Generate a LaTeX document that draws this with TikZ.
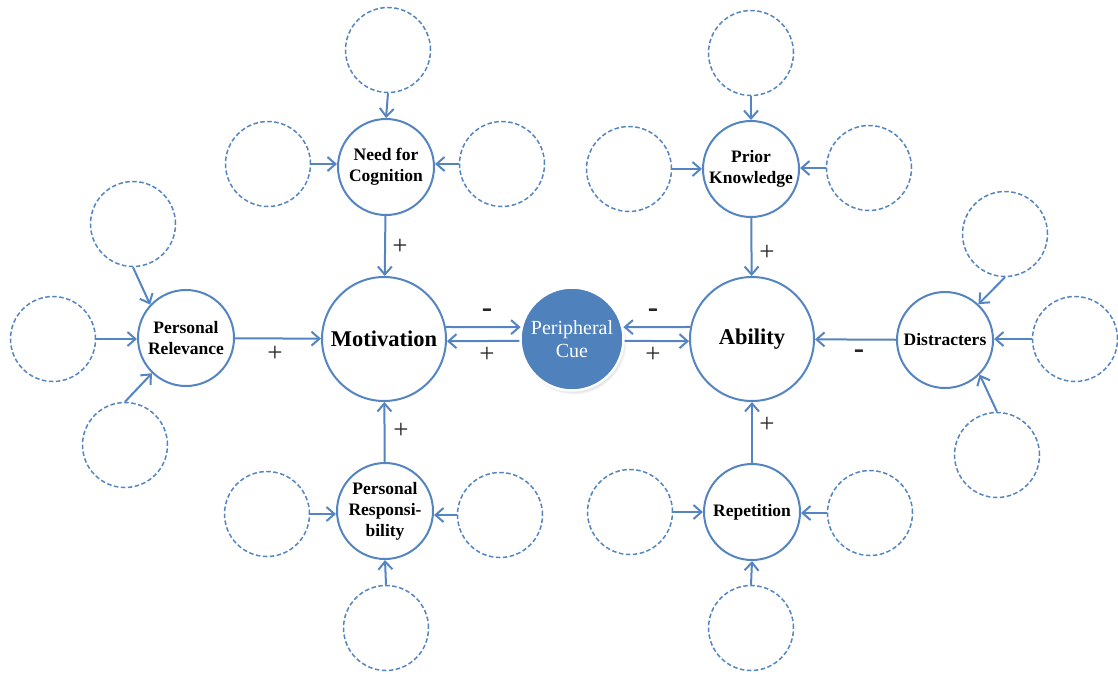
\documentclass[tikz,border=0pt]{standalone}
\usepackage{fontspec}
\setmainfont{Liberation Serif}
\usetikzlibrary{arrows.meta,shadows}
\definecolor{ln}{RGB}{84,132,194}
\definecolor{cuefill}{RGB}{79,129,189}
\begin{document}
\begin{tikzpicture}[x=1pt,y=-1pt,
 main/.style={circle,draw=ln,line width=2pt,fill=white,inner sep=0pt,minimum size=124pt,font=\fontsize{22.5}{26}\selectfont\bfseries,text=black},
 sub/.style={circle,draw=ln,line width=2pt,fill=white,inner sep=0pt,minimum size=96pt,align=center,font=\fontsize{17.5}{21}\selectfont\bfseries,text=black},
 ghost/.style={circle,draw=ln,line width=1.5pt,dash pattern=on 4.5pt off 2.5pt,inner sep=0pt,minimum size=85pt},
 arr/.style={draw=ln,line width=2pt,-{Straight Barb[length=8pt,width=14pt]}},
 sign/.style={font=\fontsize{27}{27}\selectfont,inner sep=0pt,text=black!85},
 neg/.style={font=\fontsize{31}{31}\selectfont\bfseries,inner sep=0pt,text=black!85},
]
\useasboundingbox (0,0) rectangle (1118,673);

% central nodes
\node[main] (mot) at (384,339) {Motivation};
\node[main] (abi) at (752,339) {Ability};
\node[circle,fill=cuefill,draw=white,line width=2.5pt,minimum size=103pt,inner sep=0pt,align=center,text=white,font=\fontsize{20}{23}\selectfont,
  circular drop shadow={shadow scale=1.03,shadow xshift=1.5pt,shadow yshift=-2.5pt,opacity=0.5}] (cue) at (572,339) {Peripheral\\Cue};

% secondary nodes
\node[sub] (nfc) at (386,167) {Need for\\Cognition};
\node[sub] (pr) at (186,338) {Personal\\Relevance};
\node[sub] (presp) at (385,511) {Personal\\Responsi-\\bility};
\node[sub] (pk) at (751,169) {Prior\\Knowledge};
\node[sub] (dis) at (945,340) {Distracters};
\node[sub] (rep) at (752,512) {Repetition};

% dashed placeholders
\node[ghost] (d1) at (388,50) {};
\node[ghost] (d2) at (268,164) {};
\node[ghost] (d3) at (502,164) {};
\node[ghost] (d4) at (133,224) {};
\node[ghost] (d5) at (53,339) {};
\node[ghost] (d6) at (125,445) {};
\node[ghost] (d7) at (267,514) {};
\node[ghost] (d8) at (500,515) {};
\node[ghost] (d9) at (386,628) {};
\node[ghost] (d10) at (751,53) {};
\node[ghost] (d11) at (629,169) {};
\node[ghost] (d12) at (869,168) {};
\node[ghost] (d13) at (1005,234) {};
\node[ghost] (d14) at (1075,339) {};
\node[ghost] (d15) at (997,455) {};
\node[ghost] (d16) at (630,512) {};
\node[ghost] (d17) at (870,513) {};
\node[ghost] (d18) at (751,628) {};

% placeholder arrows
\draw[arr] (d1.south) -- (nfc.north);
\draw[arr] (d2.east) -- (d2.east -| nfc.west);
\draw[arr] (d3.west) -- (d3.west -| nfc.east);
\draw[arr] (d4.south) -- (pr.137);
\draw[arr] (d5.east) -- (d5.east -| pr.west);
\draw[arr] (d6.north) -- (pr.226);
\draw[arr] (d7.east) -- (d7.east -| presp.west);
\draw[arr] (d8.west) -- (d8.west -| presp.east);
\draw[arr] (d9.north) -- (presp.south);
\draw[arr] (d10.south) -- (pk.north);
\draw[arr] (d11.east) -- (d11.east -| pk.west);
\draw[arr] (d12.west) -- (d12.west -| pk.east);
\draw[arr] (d13.south) -- (dis.47);
\draw[arr] (d14.west) -- (d14.west -| dis.east);
\draw[arr] (d15.north) -- (dis.315);
\draw[arr] (d16.east) -- (d16.east -| rep.west);
\draw[arr] (d17.west) -- (d17.west -| rep.east);
\draw[arr] (d18.north) -- (rep.south);

% main arrows
\draw[arr] (nfc) -- (mot);
\draw[arr] (pr) -- (mot);
\draw[arr] (presp) -- (mot);
\draw[arr] (pk) -- (abi);
\draw[arr] (rep) -- (abi);
\draw[arr] (dis) -- (abi);
\draw[arr] (mot.11) -- (cue.167);
\draw[arr] (cue.182) -- (mot.-2);
\draw[arr] (abi.169) -- (cue.13);
\draw[arr] (cue.-2) -- (abi.182);

% signs
\node[sign] (s1) at (400,247) {+};
\node[sign] (s2) at (275,354) {+};
\node[sign] (s3) at (401,431) {+};
\node[sign] (s4) at (487,355) {+};
\node[sign] (s5) at (653,355) {+};
\node[sign] (s6) at (767,253) {+};
\node[sign] (s7) at (767,425) {+};
\node[neg] (m1) at (487,313) {-};
\node[neg] (m2) at (653,313) {-};
\node[neg] (m3) at (859,354) {-};
\end{tikzpicture}
\end{document}
